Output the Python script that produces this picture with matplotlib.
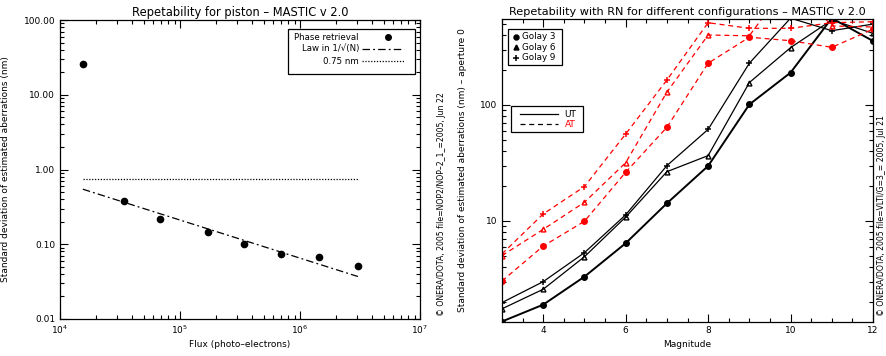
import matplotlib
matplotlib.use("Agg")
import matplotlib.pyplot as plt
from matplotlib.patches import Rectangle
from matplotlib.ticker import LogLocator, FixedLocator, NullFormatter, MultipleLocator

# left panel: piston repeatability vs flux
flux = [1.55e4, 3.4e4, 6.85e4, 1.72e5, 3.4e5, 6.9e5, 1.43e6, 3.04e6]
sigma = [25.5, 0.38, 0.22, 0.147, 0.101, 0.074, 0.067, 0.051]
law_flux = [1.55e4, 3.04e6]
law_sigma = [0.545, 0.037]
ref_flux = [1.55e4, 3.04e6]
ref_sigma = [0.75, 0.75]

# right panel: repeatability vs magnitude
mag = [3, 4, 5, 6, 7, 8, 9, 10, 11, 12]
g3_ut = [1.36, 1.90, 3.31, 6.43, 14.2, 29.8, 101, 190, 560, 356]
g6_ut = [1.75, 2.58, 4.92, 10.8, 26.6, 36.6, 156, 312, 540, 415]
g9_ut = [1.98, 3.0, 5.33, 11.3, 30.0, 61.6, 229, 560, 437, 498]
g3_at = [3.04, 6.08, 9.94, 26.3, 64.2, 229, 384, 358, 314, 450]
g6_at = [5.03, 8.47, 14.5, 31.8, 129, 401, 395, 1200, 480, 470]
g9_at = [5.2, 11.5, 19.8, 56.2, 164, 512, 458, 458, 512, 522]

W, H = 887, 356
plt.rcParams['font.family'] = ['DejaVu Sans']
fig = plt.figure(figsize=(W / 100, H / 100), dpi=100)


def px_axes(l, t, r, b):
    return fig.add_axes([l / W, 1 - b / H, (r - l) / W, (b - t) / H])


def style(ax):
    ax.tick_params(which='both', direction='in', top=True, right=True, labelsize=6.5, width=0.8)
    ax.tick_params(which='major', length=6)
    ax.tick_params(which='minor', length=3)
    for s in ax.spines.values():
        s.set_linewidth(0.9)


def fx(l, w, px):
    return (px - l) / w


def fy(t, h, py):
    return 1 - (py - t) / h


# ---------------- left ----------------
ax1 = px_axes(60, 20, 420, 319)
ax1.set_xscale('log')
ax1.set_yscale('log')
ax1.set_xlim(1e4, 1e7)
ax1.set_ylim(0.01, 100)
ax1.plot(flux, sigma, 'o', color='black', ms=4.5)
ax1.plot(law_flux, law_sigma, color='black', lw=0.9, ls=(0, (6, 2.5, 1.5, 2.5)))
ax1.plot(ref_flux, ref_sigma, color='black', lw=0.9, ls=(0, (1, 1.3)))
style(ax1)
ax1.yaxis.set_major_locator(FixedLocator([0.01, 0.1, 1, 10, 100]))
ax1.set_yticklabels(['0.01', '0.10', '1.00', '10.00', '100.00'])
ax1.yaxis.set_minor_locator(LogLocator(base=10, subs=range(2, 10)))
ax1.yaxis.set_minor_formatter(NullFormatter())
ax1.xaxis.set_minor_locator(LogLocator(base=10, subs=range(2, 10)))
ax1.xaxis.set_minor_formatter(NullFormatter())
ax1.set_title('Repetability for piston \u2013 MASTIC v 2.0', fontsize=8.3, pad=3)
ax1.set_xlabel('Flux (photo\u2013electrons)', fontsize=6.5, labelpad=3)
ax1.set_ylabel('Standard deviation of estimated aberrations (nm)', fontsize=6.5, labelpad=10)

# left legend box
L1, T1, W1, H1 = 60, 20, 360, 299
ax1.add_patch(Rectangle((fx(L1, W1, 288), fy(T1, H1, 74)), 127 / W1, 45 / H1,
                        transform=ax1.transAxes, fill=False, lw=0.9, ec='black', clip_on=False))
rows = [37, 49, 61]
labels = ['Phase retrieval', 'Law in 1/\u221a(N)', '0.75 nm']
for y, lab in zip(rows, labels):
    ax1.text(fx(L1, W1, 359), fy(T1, H1, y), lab, transform=ax1.transAxes,
             ha='right', va='center', fontsize=6.2)
ax1.plot([fx(L1, W1, 388)], [fy(T1, H1, 37)], 'o', color='black', ms=4,
         transform=ax1.transAxes, clip_on=False)
ax1.plot([fx(L1, W1, 362), fx(L1, W1, 404)], [fy(T1, H1, 49)] * 2,
         color='black', lw=0.9, ls=(0, (6, 2.5, 1.5, 2.5)), transform=ax1.transAxes)
ax1.plot([fx(L1, W1, 362), fx(L1, W1, 404)], [fy(T1, H1, 61)] * 2,
         color='black', lw=0.9, ls=(0, (1, 1.3)), transform=ax1.transAxes)

fig.text(442 / W, 1 - 316 / H, '\u00a9 ONERA/DOTA, 2005 file=NOP2/NOP\u20132_1_=2005, Jun 22',
         rotation=90, fontsize=5.6, ha='center', va='bottom')

# ---------------- right ----------------
ax2 = px_axes(502, 19, 873, 321.5)
ax2.set_yscale('log')
ax2.set_xlim(3, 12)
ax2.set_ylim(1.36, 551)
ut = dict(color='black', ls='-')
at = dict(color='red', ls=(0, (4, 3)))
ax2.plot(mag, g3_ut, marker='o', ms=4, lw=1.4, **ut)
ax2.plot(mag, g6_ut, marker='^', ms=3.5, lw=0.9, mfc='none', **ut)
ax2.plot(mag, g9_ut, marker='+', ms=5, mew=1.1, lw=0.9, **ut)
ax2.plot(mag, g3_at, marker='o', ms=4, lw=0.9, **at)
ax2.plot(mag, g6_at, marker='^', ms=3.5, lw=0.9, mfc='none', **at)
ax2.plot(mag, g9_at, marker='+', ms=5, mew=1.1, lw=0.9, **at)
style(ax2)
ax2.xaxis.set_major_locator(FixedLocator([4, 6, 8, 10, 12]))
ax2.xaxis.set_minor_locator(MultipleLocator(0.5))
ax2.yaxis.set_major_locator(FixedLocator([10, 100]))
ax2.set_yticklabels(['10', '100'])
ax2.yaxis.set_minor_locator(LogLocator(base=10, subs=range(2, 10)))
ax2.yaxis.set_minor_formatter(NullFormatter())
ax2.set_title('Repetability with RN for different configurations \u2013 MASTIC v 2.0', fontsize=8.1, pad=3)
ax2.set_xlabel('Magnitude', fontsize=6.5, labelpad=3)
ax2.set_ylabel('Standard deviation of estimated aberrations (nm) \u2013 aperture 0', fontsize=6.5, labelpad=9)

L2, T2, W2, H2 = 502, 19, 371, 302.5
# marker legend
ax2.add_patch(Rectangle((fx(L2, W2, 508), fy(T2, H2, 65)), 54 / W2, 36 / H2,
                        transform=ax2.transAxes, fill=False, lw=0.9, ec='black'))
for y, mk, lab in zip([36.7, 47.3, 58], ['o', '^', '+'], ['Golay 3', 'Golay 6', 'Golay 9']):
    ax2.plot([fx(L2, W2, 516)], [fy(T2, H2, y)], marker=mk, color='black',
             ms=3.5 if mk != '+' else 5, mew=1.1, transform=ax2.transAxes)
    ax2.text(fx(L2, W2, 522), fy(T2, H2, y), lab, transform=ax2.transAxes,
             ha='left', va='center', fontsize=6.3)
# line legend
ax2.add_patch(Rectangle((fx(L2, W2, 511), fy(T2, H2, 131.7)), 72 / W2, 26 / H2,
                        transform=ax2.transAxes, fill=False, lw=0.9, ec='black'))
for y, st, col, lab in zip([114.3, 124.3], ['-', (0, (4, 3))], ['black', 'red'], ['UT', 'AT']):
    ax2.plot([fx(L2, W2, 520), fx(L2, W2, 558)], [fy(T2, H2, y)] * 2,
             color='black', ls=st, lw=0.9, transform=ax2.transAxes)
    ax2.text(fx(L2, W2, 576), fy(T2, H2, y), lab, transform=ax2.transAxes,
             ha='right', va='center', fontsize=6.5, color=col)

fig.text(882 / W, 1 - 316 / H, '\u00a9 ONERA/DOTA, 2005 file=VLTI/G=3_= 2005, Jul 21',
         rotation=90, fontsize=5.6, ha='center', va='bottom')

fig.savefig('out.png', dpi=100)
